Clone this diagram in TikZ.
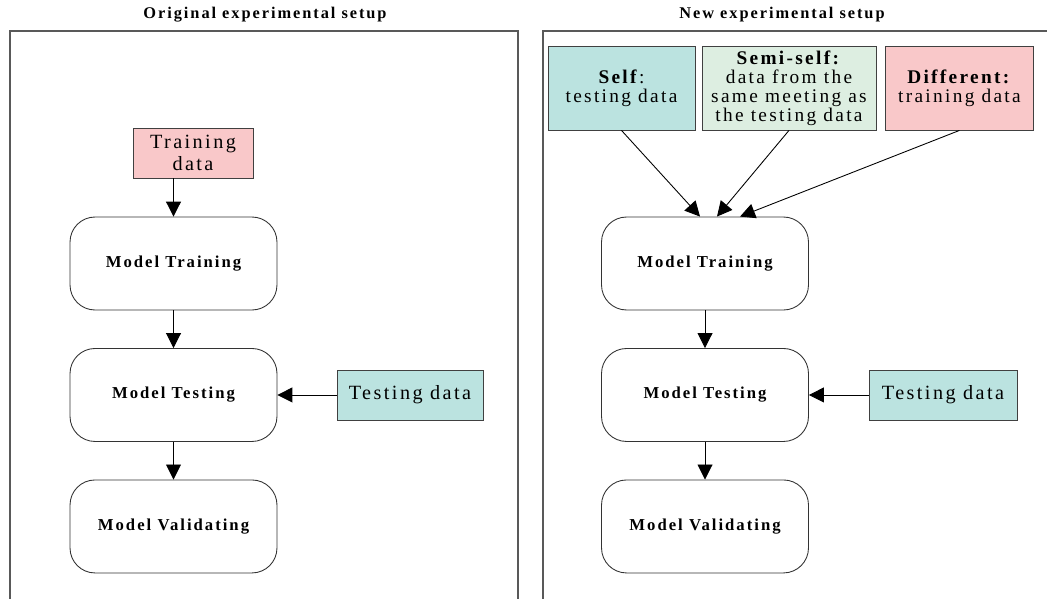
\documentclass[tikz,border=0pt]{standalone}
\usepackage{fontspec}
\setmainfont[LetterSpace=12]{Liberation Serif}
\usetikzlibrary{arrows.meta,calc,positioning}

\definecolor{pinkbox}{HTML}{F9C8C9}
\definecolor{tealbox}{HTML}{BBE3E0}
\definecolor{greenbox}{HTML}{DDEEE1}

\begin{document}
\begin{tikzpicture}[x=0.02cm,y=-0.02cm,>={Triangle[length=3mm,width=3mm]},
                    node distance=2.63cm,line width=0.5pt]
  \tikzstyle{frame}=[draw=black!65,line width=0.7pt]
  \tikzstyle{title}=[font=\bfseries\fontsize{9.3}{10}\selectfont]
  \tikzstyle{model}=[draw=black!80,rounded corners=0.5cm,minimum width=4.14cm,
                     minimum height=1.86cm,font=\bfseries\fontsize{9.5}{11}\selectfont]
  \tikzstyle{data}=[draw=black!75,minimum height=1cm,align=center,inner sep=1pt,
                    font=\fontsize{11.5}{12.5}\selectfont]
  \tikzstyle{source}=[draw=black!75,minimum height=1.68cm,align=center,inner sep=1pt,
                      font=\fontsize{11}{10.8}\selectfont]

  \useasboundingbox (0,0) rectangle (1047,598);

  \node[title] (titleL) at (265,15) {Original experimental setup};
  \node[title] (titleR) at (782,15) {New experimental setup};
  \draw[frame] (10,640) -- (10,31) -- (518,31) -- (518,640);
  \draw[frame] (543,640) -- (543,31) -- (1100,31);

  % original setup
  \node[model]         (mtrainL) at (173.5,263.5) {Model Training};
  \node[model]         (mtestL)  [below of=mtrainL] {Model Testing};
  \node[model]         (mvalidL) [below of=mtestL]  {Model Validating};
  \node[data,fill=pinkbox,minimum width=2.4cm] (trainL) at (193,153) {Training\\data};
  \node[data,fill=tealbox,minimum width=2.92cm] (testL)
       [right of=mtestL,node distance=4.73cm] {Testing data};

  \draw[->] (trainL.south -| mtrainL.north) -- (mtrainL.north);
  \draw[->] (mtrainL) -- (mtestL);
  \draw[->] (mtestL) -- (mvalidL);
  \draw[->] (testL) -- (mtestL);

  % new setup
  \node[model]         (mtrainR) at (705,263.5) {Model Training};
  \node[model]         (mtestR)  [below of=mtrainR] {Model Testing};
  \node[model]         (mvalidR) [below of=mtestR]  {Model Validating};
  \node[data,fill=tealbox,minimum width=2.96cm] (testR)
       [right of=mtestR,node distance=4.76cm] {Testing data};

  \node[source,fill=tealbox,minimum width=2.94cm]  (self) at (621.5,88)
       {\textbf{Self}:\\testing data};
  \node[source,fill=greenbox,minimum width=3.48cm] (semi)
       [right of=self,node distance=3.35cm]
       {\textbf{Semi-self:}\\data from the\\same meeting as\\the testing data};
  \node[source,fill=pinkbox,minimum width=2.98cm]  (diff)
       [right of=semi,node distance=3.41cm]
       {\textbf{Different:}\\training data};

  \draw[->] (self.south) -- ($(mtrainR.north)+(-5,0)$);
  \draw[->] (semi.south) -- ($(mtrainR.north)+(12,0)$);
  \draw[->] (diff.south) -- ($(mtrainR.north)+(35,0)$);
  \draw[->] (mtrainR) -- (mtestR);
  \draw[->] (mtestR) -- (mvalidR);
  \draw[->] (testR) -- (mtestR);
\end{tikzpicture}
\end{document}
